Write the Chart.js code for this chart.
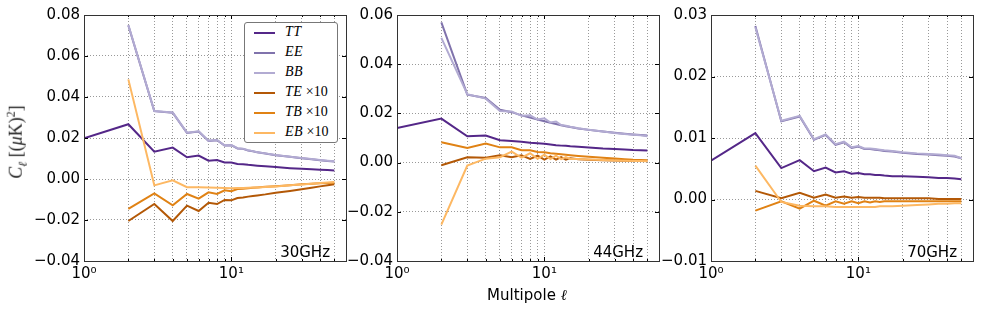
<!DOCTYPE html>
<html>
<head>
<meta charset="utf-8">
<script src="https://cdn.jsdelivr.net/npm/chart.js@4.4.1/dist/chart.umd.min.js"></script>
<style>
  html,body{margin:0;padding:0;background:#fff;}
  body{width:981px;height:314px;position:relative;overflow:hidden;font-family:"DejaVu Sans",sans-serif;}
  canvas{position:absolute;top:0;}
  .lbl{position:absolute;font-family:"DejaVu Sans",sans-serif;color:#000;white-space:nowrap;}
  #legend{position:absolute;left:244px;top:22px;width:94px;height:121px;border:1px solid #777;border-radius:3px;background:#fff;box-sizing:border-box;}
  .row{position:absolute;left:0;height:20px;}
  .row .ln{position:absolute;left:9px;top:9px;width:21px;height:2px;}
  .row .tx{position:absolute;left:40px;top:1px;font-family:"Liberation Serif","DejaVu Serif",serif;font-size:14px;white-space:nowrap;letter-spacing:0.5px;}
  .row .tx i{font-style:italic;}
  #ylab{position:absolute;left:17px;top:142px;transform:translate(-50%,-50%) rotate(-90deg);font-family:"Liberation Serif","DejaVu Serif",serif;font-size:18px;color:#222;white-space:nowrap;}
</style>
</head>
<body>
<canvas id="c0" width="350" height="314" style="left:0px"></canvas>
<canvas id="c1" width="350" height="314" style="left:313px"></canvas>
<canvas id="c2" width="350" height="314" style="left:627px"></canvas>
<div id="legend"></div>
<div id="ylab"><i>C</i><sub style="font-size:12px"><i>ℓ</i></sub> [(<i>μ</i>K)<sup style="font-size:12px">2</sup>]</div>
<div class="lbl" style="left:527px;top:286px;font-size:15px;transform:translateX(-50%);">Multipole <i style="font-family:'DejaVu Serif',serif;">ℓ</i></div>
<script>
// ---------------- data ----------------
const SERIES_NAMES = ["TT", "EE", "BB", "TE", "TB", "EB"];
const SERIES_SUFFIX = ["", "", "", " ×10", " ×10", " ×10"];
const COLORS = ["#542788", "#8073ac", "#b2abd2", "#b35806", "#e08214", "#fdb863"];
const PANEL_LABELS = ["30GHz", "44GHz", "70GHz"];

const ELL_TT = [1, 2, 3, 4, 5, 6, 7, 8, 9, 10, 11, 12, 13, 14, 15, 17, 20, 25, 30, 35, 40, 45, 50];
const ELL    = [2, 3, 4, 5, 6, 7, 8, 9, 10, 11, 12, 13, 14, 15, 17, 20, 25, 30, 35, 40, 45, 50];

const X_TICKS = [1, 2, 3, 4, 5, 6, 7, 8, 9, 10, 20, 30, 40, 50, 60];
const X_LABELS = {1: "10⁰", 10: "10¹"};
const X_MIN = 1, X_MAX = 60;

const Y_TICKS_30 = [-0.04, -0.02, 0.00, 0.02, 0.04, 0.06, 0.08];
const Y_TICKS_44 = [-0.04, -0.02, 0.00, 0.02, 0.04, 0.06];
const Y_TICKS_70 = [-0.01, 0.00, 0.01, 0.02, 0.03];

// 30 GHz
const TT_30 = [0.0199, 0.0267, 0.0133, 0.0153, 0.0106, 0.0114, 0.0089, 0.0093, 0.0081, 0.0080, 0.0073, 0.0072, 0.0069, 0.0067, 0.0065, 0.0062, 0.0058, 0.0053, 0.0050, 0.0047, 0.0045, 0.0044, 0.0042];
const EE_30 = [0.0749, 0.0331, 0.0323, 0.0225, 0.0232, 0.0186, 0.0189, 0.0163, 0.0165, 0.0149, 0.0147, 0.0139, 0.0135, 0.0130, 0.0124, 0.0116, 0.0108, 0.0101, 0.0096, 0.0092, 0.0088, 0.0085];
const BB_30 = [0.0751, 0.0332, 0.0324, 0.0226, 0.0233, 0.0187, 0.0190, 0.0164, 0.0166, 0.0150, 0.0148, 0.0140, 0.0136, 0.0131, 0.0125, 0.0117, 0.0109, 0.0102, 0.0097, 0.0093, 0.0089, 0.0086];
const TE_30 = [-0.0205, -0.0122, -0.0205, -0.0130, -0.0156, -0.0116, -0.0122, -0.0102, -0.0104, -0.0093, -0.0090, -0.0086, -0.0083, -0.0080, -0.0075, -0.0067, -0.0058, -0.0050, -0.0043, -0.0036, -0.0031, -0.0026];
const TB_30 = [-0.0146, -0.0070, -0.0128, -0.0073, -0.0096, -0.0065, -0.0073, -0.0055, -0.0060, -0.0049, -0.0048, -0.0045, -0.0043, -0.0041, -0.0038, -0.0035, -0.0030, -0.0026, -0.0023, -0.0021, -0.0019, -0.0018];
const EB_30 = [0.0486, -0.0031, -0.0006, -0.0040, -0.0040, -0.0042, -0.0043, -0.0044, -0.0045, -0.0044, -0.0044, -0.0043, -0.0042, -0.0041, -0.0039, -0.0036, -0.0031, -0.0027, -0.0023, -0.0020, -0.0017, -0.0015];

// 44 GHz
const TT_44 = [0.0141, 0.0179, 0.0107, 0.0110, 0.0091, 0.0088, 0.0085, 0.0081, 0.0079, 0.0077, 0.0074, 0.0071, 0.0069, 0.0068, 0.0066, 0.0064, 0.0061, 0.0057, 0.0055, 0.0053, 0.0051, 0.0050, 0.0049];
const EE_44 = [0.0570, 0.0276, 0.0263, 0.0215, 0.0205, 0.0192, 0.0183, 0.0175, 0.0168, 0.0162, 0.0157, 0.0152, 0.0148, 0.0145, 0.0139, 0.0133, 0.0126, 0.0121, 0.0117, 0.0114, 0.0112, 0.0110];
const BB_44 = [0.0507, 0.0278, 0.0260, 0.0210, 0.0208, 0.0190, 0.0192, 0.0175, 0.0180, 0.0163, 0.0167, 0.0153, 0.0150, 0.0146, 0.0140, 0.0134, 0.0126, 0.0120, 0.0116, 0.0113, 0.0111, 0.0107];
const TE_44 = [-0.0011, 0.0022, 0.0020, 0.0030, 0.0022, 0.0030, 0.0015, 0.0028, 0.0012, 0.0025, 0.0012, 0.0022, 0.0012, 0.0018, 0.0014, 0.0012, 0.0010, 0.0009, 0.0008, 0.0007, 0.0007, 0.0006];
const TB_44 = [0.0083, 0.0059, 0.0078, 0.0062, 0.0062, 0.0050, 0.0050, 0.0043, 0.0042, 0.0038, 0.0036, 0.0034, 0.0032, 0.0030, 0.0027, 0.0024, 0.0020, 0.0017, 0.0014, 0.0012, 0.0011, 0.0010];
const EB_44 = [-0.0252, -0.0012, 0.0016, 0.0022, 0.0045, 0.0020, 0.0038, 0.0015, 0.0032, 0.0014, 0.0028, 0.0014, 0.0022, 0.0015, 0.0015, 0.0013, 0.0011, 0.0009, 0.0008, 0.0007, 0.0006, 0.0005];

// 70 GHz
const TT_70 = [0.0063, 0.0108, 0.0051, 0.0064, 0.0046, 0.0052, 0.0044, 0.0046, 0.0042, 0.0043, 0.0041, 0.0041, 0.0040, 0.0040, 0.0039, 0.0038, 0.0038, 0.0037, 0.0036, 0.0035, 0.0035, 0.0034, 0.0033];
const EE_70 = [0.0282, 0.0127, 0.0135, 0.0097, 0.0105, 0.0089, 0.0093, 0.0084, 0.0086, 0.0082, 0.0082, 0.0081, 0.0080, 0.0079, 0.0078, 0.0076, 0.0074, 0.0073, 0.0072, 0.0071, 0.0070, 0.0067];
const BB_70 = [0.0280, 0.0128, 0.0136, 0.0098, 0.0106, 0.0090, 0.0094, 0.0085, 0.0087, 0.0083, 0.0083, 0.0082, 0.0081, 0.0080, 0.0079, 0.0077, 0.0075, 0.0074, 0.0073, 0.0072, 0.0071, 0.0067];
const TE_70 = [0.0014, 0.0002, 0.0011, 0.0003, 0.0008, 0.0003, 0.0005, 0.0003, 0.0004, 0.0003, 0.0003, 0.0003, 0.0003, 0.0002, 0.0002, 0.0002, 0.0002, 0.0002, 0.0001, 0.0001, 0.0001, 0.0001];
const TB_70 = [-0.0018, -0.0003, -0.0015, -0.0002, -0.0010, -0.0003, -0.0007, -0.0003, -0.0006, -0.0003, -0.0005, -0.0003, -0.0004, -0.0003, -0.0003, -0.0003, -0.0003, -0.0003, -0.0003, -0.0003, -0.0003, -0.0003];
const EB_70 = [0.0055, -0.0004, -0.0010, -0.0011, -0.0011, -0.0012, -0.0012, -0.0012, -0.0012, -0.0012, -0.0012, -0.0012, -0.0011, -0.0011, -0.0011, -0.0010, -0.0009, -0.0008, -0.0007, -0.0007, -0.0006, -0.0006];

const PANELS = [
  {id: "c0", label: PANEL_LABELS[0], yTicks: Y_TICKS_30, series: [TT_30, EE_30, BB_30, TE_30, TB_30, EB_30]},
  {id: "c1", label: PANEL_LABELS[1], yTicks: Y_TICKS_44, series: [TT_44, EE_44, BB_44, TE_44, TB_44, EB_44]},
  {id: "c2", label: PANEL_LABELS[2], yTicks: Y_TICKS_70, series: [TT_70, EE_70, BB_70, TE_70, TB_70, EB_70]},
];

// ---------------- rendering ----------------
const fmtY = v => (Math.abs(v) < 1e-9 ? "0.00" : (v < 0 ? "−" + Math.abs(v).toFixed(2) : v.toFixed(2)));

const framePlugin = {
  id: "frame",
  afterDatasetsDraw(chart, args, opts) {
    const {ctx, chartArea: a, scales} = chart;
    ctx.save();
    ctx.strokeStyle = "#000";
    ctx.lineWidth = 1;
    ctx.beginPath();
    scales.y.ticks.forEach(t => {
      const y = Math.round(scales.y.getPixelForValue(t.value)) + 0.5;
      ctx.moveTo(a.left, y); ctx.lineTo(a.left + 4, y);
      ctx.moveTo(a.right, y); ctx.lineTo(a.right - 4, y);
    });
    scales.x.ticks.forEach(t => {
      const x = Math.round(scales.x.getPixelForValue(t.value)) + 0.5;
      const len = X_LABELS[t.value] ? 4 : 2;
      ctx.moveTo(x, a.bottom); ctx.lineTo(x, a.bottom - len);
      ctx.moveTo(x, a.top); ctx.lineTo(x, a.top + len);
    });
    ctx.stroke();
    ctx.strokeStyle = "#333";
    ctx.strokeRect(Math.round(a.left) + 0.5, Math.round(a.top) + 0.5, Math.round(a.right - a.left), Math.round(a.bottom - a.top));
    ctx.fillStyle = "#000";
    ctx.font = "15px 'DejaVu Sans'";
    ctx.textAlign = "right";
    ctx.textBaseline = "alphabetic";
    ctx.fillText(opts.label, a.right - 16, a.bottom - 4);
    ctx.restore();
  }
};

PANELS.forEach(p => {
  const datasets = SERIES_NAMES.map((name, i) => {
    const xs = i === 0 ? ELL_TT : ELL;
    return {
      label: name + SERIES_SUFFIX[i],
      data: xs.map((l, k) => ({x: l, y: p.series[i][k]})),
      borderColor: COLORS[i],
      backgroundColor: COLORS[i],
      borderWidth: 2,
      pointRadius: 0,
      tension: 0,
      fill: false,
      order: SERIES_NAMES.length - i,
    };
  });
  new Chart(document.getElementById(p.id), {
    type: "line",
    data: {datasets},
    plugins: [framePlugin],
    options: {
      responsive: false,
      animation: false,
      devicePixelRatio: 1,
      layout: {padding: {top: 15, right: 4, left: 0, bottom: 0}},
      plugins: {legend: {display: false}, tooltip: {enabled: false}, frame: {label: p.label}},
      scales: {
        x: {
          type: "logarithmic",
          min: X_MIN, max: X_MAX,
          afterBuildTicks: s => { s.ticks = X_TICKS.map(v => ({value: v})); },
          afterFit: s => { s.height = 53; },
          ticks: {
            autoSkip: false, maxRotation: 0, minRotation: 0, padding: 4,
            color: "#000", font: {family: "DejaVu Sans", size: 15},
            callback: v => X_LABELS[v] || "",
          },
          grid: {color: "rgba(0,0,0,0.4)", lineWidth: 1, drawTicks: false},
          border: {display: false, dash: [1, 2]},
        },
        y: {
          type: "linear",
          min: p.yTicks[0], max: p.yTicks[p.yTicks.length - 1],
          afterBuildTicks: s => { s.ticks = p.yTicks.map(v => ({value: v})); },
          afterFit: s => { s.width = 84; },
          ticks: {
            padding: 4, color: "#000", font: {family: "DejaVu Sans", size: 15},
            callback: v => fmtY(v),
          },
          grid: {color: "rgba(0,0,0,0.4)", lineWidth: 1, drawTicks: false},
          border: {display: false, dash: [1, 2]},
        },
      },
    },
  });
});

const leg = document.getElementById("legend");
SERIES_NAMES.forEach((name, i) => {
  const row = document.createElement("div");
  row.className = "row";
  row.style.top = (i * 20) + "px";
  row.innerHTML = '<div class="ln" style="background:' + COLORS[i] + '"></div>' +
    '<div class="tx"><i>' + name + '</i>' + (SERIES_SUFFIX[i] ? '<span style="font-size:14px;letter-spacing:0">' + SERIES_SUFFIX[i] + '</span>' : '') + '</div>';
  leg.appendChild(row);
});
</script>
</body>
</html>
